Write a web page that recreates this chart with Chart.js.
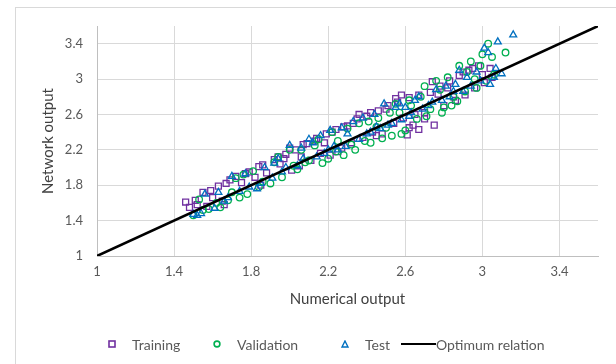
<!DOCTYPE html>
<html>
<head>
<meta charset="utf-8">
<script src="https://cdn.jsdelivr.net/npm/chart.js@4.4.1/dist/chart.umd.min.js"></script>
<style>
    html, body { margin: 0; padding: 0; background: #fff; }
    #wrap { position: relative; width: 616px; height: 364px; overflow: hidden; }
    #frame { position: absolute; left: 15px; top: 7px; right: 0; bottom: 0; border-top: 1px solid #d9d9d9; border-left: 1px solid #d9d9d9; }
    #scatter-chart { position: absolute; left: 0; top: 0; }
    #legend { position: absolute; left: 0; top: 334px; width: 616px; height: 20px; font-family: Lato, sans-serif; font-size: 14px; color: #595959; }
    #legend .item { position: absolute; top: 0; height: 20px; display: flex; align-items: center; white-space: nowrap; }
    #legend svg { display: block; }
</style>
</head>
<body>
<div id="wrap">
    <div id="frame"></div>
    <canvas id="scatter-chart" width="616" height="364"></canvas>
    <div id="legend"></div>
</div>
<script>
// data: [numerical output, network output]
const trainingPoints = [
    [1.46, 1.61], [1.48, 1.55], [1.51, 1.63], [1.55, 1.72], [1.57, 1.56], [1.60, 1.66], [1.63, 1.79], [1.66, 1.58],
    [1.69, 1.86], [1.72, 1.90], [1.75, 1.83], [1.79, 1.95], [1.82, 1.89], [1.84, 2.01], [1.88, 1.94], [1.92, 2.09],
    [1.95, 2.04], [1.98, 2.15], [2.01, 1.97], [2.03, 2.20], [2.06, 2.12], [2.09, 2.27], [2.11, 2.08], [2.14, 2.33],
    [2.16, 2.16], [2.19, 2.38], [2.21, 2.14], [2.24, 2.43], [2.27, 2.22], [2.30, 2.47], [2.32, 2.28], [2.35, 2.55],
    [2.38, 2.34], [2.40, 2.58], [2.43, 2.40], [2.46, 2.64], [2.48, 2.38], [2.51, 2.70], [2.54, 2.50], [2.56, 2.74],
    [2.59, 2.56], [2.62, 2.79], [2.64, 2.48], [2.67, 2.82], [2.70, 2.62], [2.73, 2.85], [2.75, 2.48], [2.78, 2.92],
    [2.80, 2.70], [2.83, 2.98], [2.86, 2.76], [2.88, 3.04], [2.91, 2.82], [2.93, 3.10], [2.96, 2.90], [2.98, 3.15],
    [3.01, 2.96], [3.04, 3.12], [2.74, 2.97], [2.58, 2.82], [2.36, 2.60], [2.18, 2.28], [1.97, 2.10], [2.62, 2.45],
    [2.70, 2.55], [1.52, 1.58], [1.59, 1.74], [1.67, 1.82], [1.77, 1.93], [1.86, 2.03], [1.94, 2.12], [2.00, 2.22],
    [2.07, 2.26], [2.13, 2.30], [2.22, 2.40], [2.28, 2.46], [2.33, 2.50], [2.42, 2.62], [2.50, 2.66], [2.55, 2.78],
    [2.61, 2.37], [2.67, 2.43], [2.77, 2.83], [2.82, 2.90], [2.90, 3.08], [2.95, 3.12], [3.00, 3.05], [2.05, 2.02],
    [2.25, 2.18], [2.45, 2.36], [2.65, 2.60], [2.85, 2.80], [3.05, 3.02], [1.85, 1.80], [1.65, 1.62]
];
const validationPoints = [
    [1.50, 1.46], [1.53, 1.64], [1.58, 1.53], [1.64, 1.55], [1.68, 1.63], [1.74, 1.66], [1.78, 1.70], [1.81, 1.96],
    [1.86, 1.84], [1.90, 1.82], [1.96, 1.89], [2.00, 2.20], [2.04, 1.98], [2.08, 2.06], [2.13, 2.25], [2.17, 2.05],
    [2.20, 2.10], [2.25, 2.30], [2.28, 2.14], [2.32, 2.26], [2.36, 2.50], [2.39, 2.30], [2.42, 2.28], [2.46, 2.56],
    [2.50, 2.45], [2.53, 2.36], [2.57, 2.62], [2.60, 2.42], [2.63, 2.70], [2.66, 2.55], [2.70, 2.92], [2.73, 2.66],
    [2.76, 2.98], [2.79, 2.62], [2.82, 3.02], [2.85, 2.80], [2.88, 3.15], [2.91, 2.86], [2.94, 3.20], [2.97, 2.90],
    [3.00, 3.28], [3.03, 3.40], [3.06, 3.05], [3.12, 3.30], [2.96, 3.00], [2.55, 2.72], [2.45, 2.46], [2.22, 2.40],
    [1.92, 2.06], [1.72, 1.88], [2.68, 2.80], [2.84, 2.70], [1.55, 1.52], [1.62, 1.60], [1.70, 1.72], [1.76, 1.92],
    [1.84, 1.78], [1.94, 2.12], [2.02, 2.02], [2.10, 2.08], [2.15, 2.32], [2.24, 2.18], [2.30, 2.44], [2.34, 2.20],
    [2.41, 2.52], [2.48, 2.33], [2.52, 2.62], [2.58, 2.38], [2.62, 2.76], [2.71, 2.58], [2.78, 2.88], [2.87, 2.75],
    [2.92, 3.08], [2.99, 3.15], [3.02, 2.98], [3.05, 3.25], [2.80, 2.68], [2.06, 2.20]
];
const testPoints = [
    [1.50, 1.47], [1.52, 1.46], [1.56, 1.70], [1.61, 1.54], [1.66, 1.62], [1.70, 1.90], [1.74, 1.73], [1.79, 1.78],
    [1.83, 1.76], [1.87, 2.00], [1.91, 1.88], [1.96, 1.95], [2.00, 2.25], [2.04, 2.02], [2.07, 2.10], [2.10, 2.32],
    [2.14, 2.12], [2.18, 2.16], [2.21, 2.42], [2.25, 2.20], [2.29, 2.24], [2.33, 2.52], [2.36, 2.32], [2.40, 2.38],
    [2.44, 2.60], [2.47, 2.44], [2.51, 2.48], [2.55, 2.68], [2.58, 2.54], [2.62, 2.58], [2.65, 2.76], [2.69, 2.66],
    [2.72, 2.70], [2.76, 2.88], [2.79, 2.76], [2.83, 2.80], [2.86, 2.94], [2.90, 2.86], [2.94, 2.92], [2.97, 3.08],
    [3.01, 3.35], [3.04, 2.94], [3.06, 3.02], [3.08, 3.42], [3.10, 3.06], [3.16, 3.50], [2.49, 2.72], [2.30, 2.38],
    [2.12, 2.28], [1.94, 2.10], [2.60, 2.68], [2.88, 3.10], [1.54, 1.48], [1.63, 1.72], [1.68, 1.66], [1.77, 1.93],
    [1.85, 1.82], [1.92, 2.05], [1.98, 2.00], [2.06, 2.22], [2.16, 2.36], [2.23, 2.24], [2.27, 2.45], [2.38, 2.56],
    [2.42, 2.40], [2.53, 2.50], [2.57, 2.72], [2.63, 2.62], [2.67, 2.80], [2.74, 2.74], [2.81, 2.92], [2.85, 2.86],
    [2.92, 3.02], [2.99, 2.98], [3.03, 3.30], [3.07, 3.12], [2.45, 2.46], [2.20, 2.20]
];
const optimumX = [1, 3.6];
const optimumY = [1, 3.6];
const axisTicks = [1, 1.4, 1.8, 2.2, 2.6, 3, 3.4];
const seriesNames = ["Training", "Validation", "Test", "Optimum relation"];


window.addEventListener("load", function () {
    draw();
});


function toXY(list) {
    return list.map(function (p) { return { x: p[0], y: p[1] }; });
}

function draw() {
    const tickFont = { family: "Lato", size: 13 };
    const titleFont = { family: "Lato", size: 15 };

    const chart = new Chart(document.getElementById("scatter-chart"), {
        type: 'scatter',
        data: {
            datasets: [
                {
                    label: seriesNames[0],
                    data: toXY(trainingPoints),
                    pointStyle: 'rect',
                    pointRadius: 4.2,
                    borderColor: "#7030A0",
                    backgroundColor: "rgba(0,0,0,0)",
                    borderWidth: 1.3,
                    order: 3
                },
                {
                    label: seriesNames[1],
                    data: toXY(validationPoints),
                    pointStyle: 'circle',
                    pointRadius: 3.3,
                    borderColor: "#00B050",
                    backgroundColor: "rgba(0,0,0,0)",
                    borderWidth: 1.3,
                    order: 2
                },
                {
                    label: seriesNames[2],
                    data: toXY(testPoints),
                    pointStyle: 'triangle',
                    pointRadius: 4,
                    borderColor: "#0070C0",
                    backgroundColor: "rgba(0,0,0,0)",
                    borderWidth: 1.3,
                    order: 1
                },
                {
                    type: 'line',
                    label: seriesNames[3],
                    data: optimumX.map(function (x, i) { return { x: x, y: optimumY[i] }; }),
                    borderColor: "#000000",
                    borderWidth: 2.5,
                    pointRadius: 0,
                    fill: false,
                    order: 0
                }
            ]
        },
        options: {
            responsive: false,
            animation: false,
            layout: { padding: { left: 35, top: 26, right: 18, bottom: 52 } },
            plugins: {
                legend: { display: false },
                tooltip: { enabled: false }
            },
            scales: {
                x: {
                    type: 'linear',
                    min: 1,
                    max: 3.6,
                    afterBuildTicks: function (s) { s.ticks = axisTicks.map(function (v) { return { value: v }; }); },
                    afterFit: function (s) { s.height = 56; },
                    grid: { color: "#d9d9d9", drawTicks: false },
                    border: { color: "#bfbfbf" },
                    ticks: { padding: 8, font: tickFont, color: "#595959", callback: function (v) { return String(v); } },
                    title: { display: true, text: "Numerical output", font: titleFont, color: "#404040", padding: { top: 4, bottom: 4 } }
                },
                y: {
                    type: 'linear',
                    min: 1,
                    max: 3.6,
                    afterBuildTicks: function (s) { s.ticks = axisTicks.map(function (v) { return { value: v }; }); },
                    afterFit: function (s) { s.width = 62; },
                    grid: { color: "#d9d9d9", drawTicks: false },
                    border: { color: "#bfbfbf" },
                    ticks: { padding: 14, font: tickFont, color: "#595959", callback: function (v) { return String(v); } },
                    title: { display: true, text: "Network output", font: titleFont, color: "#404040", padding: { top: 4, bottom: 4 } }
                }
            }
        }
    });

    // 범례 (html)
    const legendLeft = [108, 213, 341, 401];
    let legend = document.querySelector("#legend");
    let html = "";
    chart.data.datasets.forEach(function (ds, i) {
        let mark = "";
        const c = ds.borderColor;
        if (ds.pointStyle === 'rect') {
            mark = '<svg width="8" height="8"><rect x="1" y="1" width="6" height="6" fill="none" stroke="' + c + '" stroke-width="1.6"/></svg>';
        } else if (ds.pointStyle === 'circle') {
            mark = '<svg width="8" height="8"><circle cx="4" cy="4" r="2.9" fill="none" stroke="' + c + '" stroke-width="1.6"/></svg>';
        } else if (ds.pointStyle === 'triangle') {
            mark = '<svg width="8" height="8"><polygon points="4,1 7,7 1,7" fill="none" stroke="' + c + '" stroke-width="1.4"/></svg>';
        } else {
            mark = '<svg width="35" height="8"><line x1="0" y1="4" x2="35" y2="4" stroke="' + c + '" stroke-width="2"/></svg>';
        }
        const gap = ds.type === 'line' ? 0 : 16;
        html += '<span class="item" style="left:' + legendLeft[i] + 'px">' + mark + '<span style="margin-left:' + gap + 'px">' + ds.label + '</span></span>';
    });
    legend.innerHTML = html;
}
</script>
</body>
</html>
